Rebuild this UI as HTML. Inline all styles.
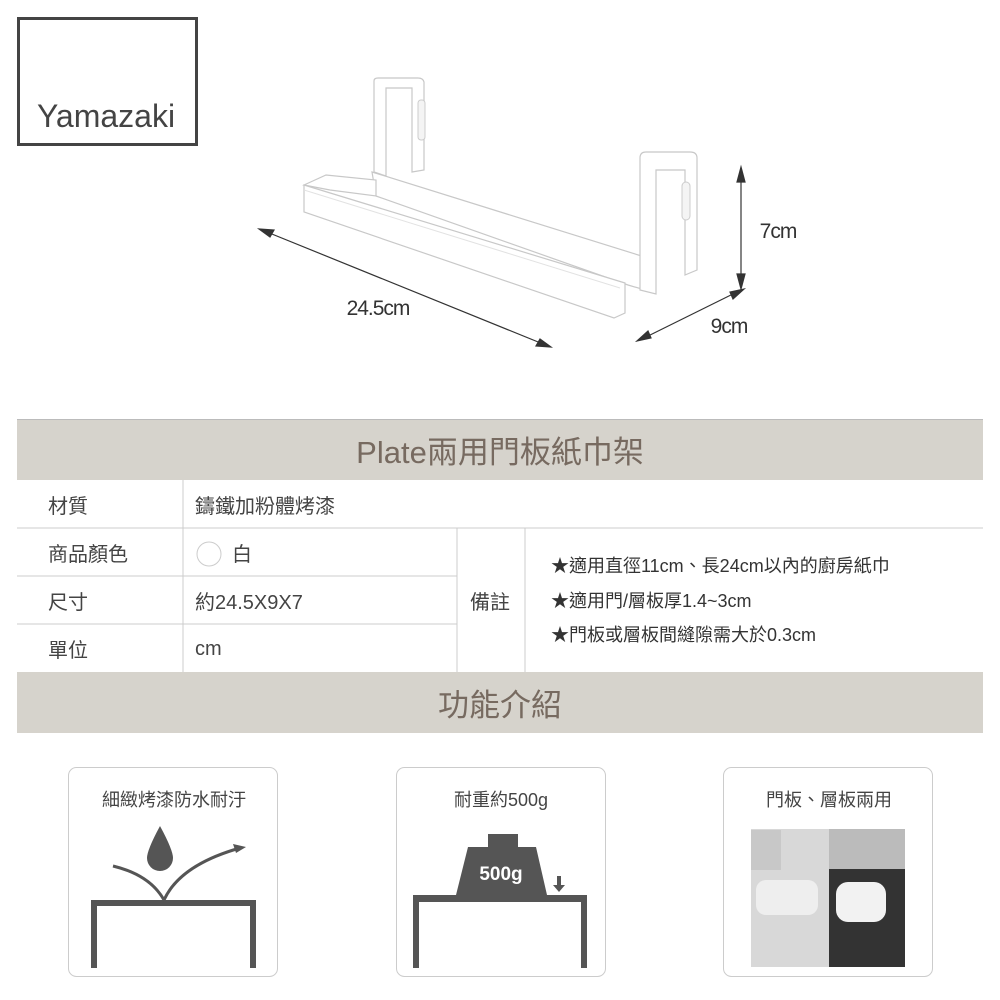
<!DOCTYPE html>
<html><head><meta charset="utf-8"><style>
body{margin:0;background:#fff;}
svg{display:block;}
text{font-family:"Liberation Sans","Noto Sans CJK TC",sans-serif;}
</style></head><body>
<svg width="1000" height="1000" viewBox="0 0 1000 1000" xmlns="http://www.w3.org/2000/svg">
<rect x="18.5" y="18.5" width="178" height="126" fill="none" stroke="#444" stroke-width="3"/>
<text x="106" y="127" font-size="32" fill="#444" text-anchor="middle">Yamazaki</text>
<!-- product -->
<g fill="#fff" stroke="#c8c8c8" stroke-width="1.2">
<path d="M374 81 L374 172 L386 176 L386 88 L412 88 L412 172 L424 170 L424 82 Q423 78 418 78 L378 78 Q374 78 374 81Z"/>
<path d="M372 172 L648 258 L652 292 L628 285 L376 196Z"/>
<path d="M304 185 L326 175 L376 180 L376 196 L330 190 Z"/>
<path d="M304 185 L625 283 L625 313 L614 318 L304 212 Z"/>
<path d="M640 158 L640 290 L656 294 L656 170 L685 170 L685 275 L697 270 L697 158 Q697 152 690 152 L646 152 Q640 152 640 158Z"/>
</g>
<path d="M304 190 L620 288" stroke="#e2e2e2" fill="none"/>
<rect x="682" y="182" width="8" height="38" rx="4" fill="#f4f4f4" stroke="#ccc"/>
<rect x="418" y="100" width="7" height="40" rx="3" fill="#f4f4f4" stroke="#ccc"/>
<g stroke="#333" stroke-width="1.2" fill="#333">
<line x1="262" y1="230" x2="548" y2="346"/>
<path d="M259 229 L274 230 L270 237Z"/>
<path d="M551 347 L536 346 L540 339Z"/>
<line x1="741" y1="170" x2="741" y2="286"/>
<path d="M741 167 L737 182 L745 182Z"/>
<path d="M741 289 L737 274 L745 274Z"/>
<line x1="640" y1="340" x2="741" y2="290"/>
<path d="M637 341 L648 331 L651 338Z"/>
<path d="M744 289 L733 299 L730 292Z"/>
</g>
<text x="378" y="315" font-size="21" fill="#333" text-anchor="middle" letter-spacing="-1">24.5cm</text>
<text x="778" y="238" font-size="21" fill="#333" text-anchor="middle" letter-spacing="-1">7cm</text>
<text x="729" y="333" font-size="21" fill="#333" text-anchor="middle" letter-spacing="-1">9cm</text>
<rect x="17" y="419" width="966" height="61" fill="#d6d3cc"/>
<line x1="17" y1="419.5" x2="983" y2="419.5" stroke="#bbb"/>
<text x="500" y="463" font-size="31" fill="#776a60" text-anchor="middle">Plate兩用門板紙巾架</text>
<g stroke="#ccc" stroke-width="1">
<line x1="17" y1="528" x2="983" y2="528"/>
<line x1="17" y1="576" x2="457" y2="576"/>
<line x1="17" y1="624" x2="457" y2="624"/>
<line x1="183" y1="480" x2="183" y2="672"/>
<line x1="457" y1="528" x2="457" y2="672"/>
<line x1="525" y1="528" x2="525" y2="672"/>
</g>
<rect x="17" y="672" width="966" height="61" fill="#d6d3cc"/>
<text x="500" y="716" font-size="31" fill="#776a60" text-anchor="middle">功能介紹</text>
<g font-size="20" fill="#444">
<text x="48" y="513">材質</text>
<text x="195" y="513">鑄鐵加粉體烤漆</text>
<text x="48" y="561">商品顏色</text>
<circle cx="209" cy="554" r="12" fill="#fff" stroke="#ccc"/>
<text x="232" y="561">白</text>
<text x="48" y="609">尺寸</text>
<text x="195" y="609">約24.5X9X7</text>
<text x="48" y="657">單位</text>
<text x="195" y="655">cm</text>
<text x="470" y="609">備註</text>
<g font-size="18" fill="#333">
<text x="551" y="572">★適用直徑11cm、長24cm以內的廚房紙巾</text>
<text x="551" y="607">★適用門/層板厚1.4~3cm</text>
<text x="551" y="641">★門板或層板間縫隙需大於0.3cm</text>
</g>
</g>
<g fill="#fff" stroke="#ccc">
<rect x="68.5" y="767.5" width="209" height="209" rx="8"/>
<rect x="396.5" y="767.5" width="209" height="209" rx="8"/>
<rect x="723.5" y="767.5" width="209" height="209" rx="8"/>
</g>
<g font-size="18" fill="#444" text-anchor="middle">
<text x="174" y="806">細緻烤漆防水耐汙</text>
<text x="501" y="806">耐重約500g</text>
<text x="829" y="806">門板、層板兩用</text>
</g>
<g fill="#555">
<path d="M91 900 H256 V968 H250 V906 H97 V968 H91Z"/>
<path d="M160 826 Q147 850 147 858 A13 13 0 0 0 173 858 Q173 850 160 826Z"/>
</g>
<path d="M113 866 Q150 875 164 900 Q180 865 240 848" fill="none" stroke="#555" stroke-width="3"/>
<path d="M246 847 L233 844 L236 853Z" fill="#555"/>
<g fill="#555">
<path d="M413 895 H587 V968 H581 V902 H419 V968 H413Z"/>
<path d="M488 834 H518 V847 H536 L547 895 H456 L468 847 H488Z"/>
<path d="M557 876 H561 V885 H565 L559 892 L553 885 H557Z"/>
</g>
<text x="501" y="880" font-size="19" font-weight="bold" fill="#fff" text-anchor="middle">500g</text>
<rect x="751" y="829" width="78" height="138" fill="#d8d8d8"/>
<rect x="829" y="829" width="76" height="138" fill="#333"/>
<rect x="829" y="829" width="76" height="40" fill="#bbb"/>
<rect x="756" y="880" width="62" height="35" rx="10" fill="#eee"/>
<rect x="836" y="882" width="50" height="40" rx="12" fill="#f2f2f2"/>
<rect x="751" y="830" width="30" height="40" fill="#c8c8c8"/>
</svg>
</body></html>
